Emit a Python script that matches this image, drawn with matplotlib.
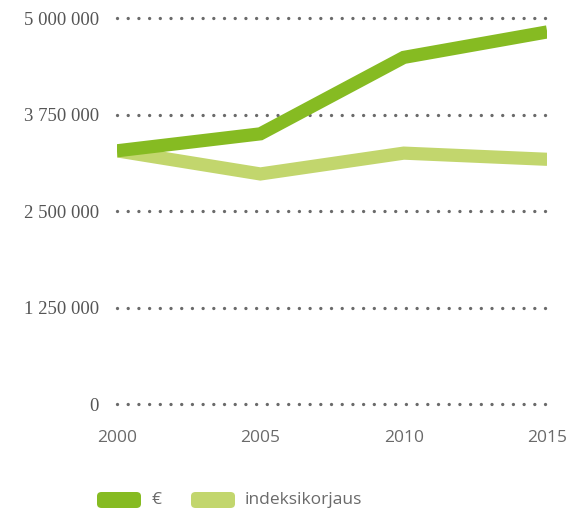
import matplotlib.pyplot as plt
from matplotlib.patches import FancyBboxPatch
from matplotlib.ticker import FixedLocator

years = [2000, 2005, 2010, 2015]
euro = [3280000, 3500000, 4490000, 4820000]
indeksi = [3280000, 2980000, 3250000, 3170000]
yticks = [0, 1250000, 2500000, 3750000, 5000000]
ylabels = ['0', '1 250 000', '2 500 000', '3 750 000', '5 000 000']
series_names = ['€', 'indeksikorjaus']
dark = '#86bb22'
light = '#c2d66d'

fig = plt.figure(figsize=(5.76, 5.15), dpi=100)
ax = fig.add_axes([0.203, 0.2155, 0.747, 0.7495])

ax.plot(years, indeksi, color=light, lw=9.5, solid_capstyle='butt', solid_joinstyle='miter', zorder=3)
ax.plot(years, euro, color=dark, lw=9.5, solid_capstyle='butt', solid_joinstyle='miter', zorder=4)

ax.set_xlim(2000, 2015)
ax.set_ylim(0, 5000000)
ax.yaxis.set_major_locator(FixedLocator(yticks))
ax.set_yticklabels(ylabels, family='Liberation Serif', fontsize=13.5, color='#555555')
ax.set_xticks(years)
ax.set_xticklabels([str(y) for y in years], family='Open Sans', fontsize=12.5, color='#6a6a6a')
ax.tick_params(axis='y', length=0, pad=13)
ax.tick_params(axis='x', length=0, pad=19)
# dotted grid, ~10.7 px between dots
ax.yaxis.grid(True, color='#6a6a6a', linewidth=2.4, linestyle=(0, (0.01, 3.2)),
              dash_capstyle='round', zorder=1)
for gl in ax.get_ygridlines():
    gl.set_clip_on(False)
ax.set_axisbelow(True)
for s in ax.spines.values():
    s.set_visible(False)

# legend
W, H = 576, 515
for name, col, x0 in zip(series_names, [dark, light], [97, 191]):
    box = FancyBboxPatch((x0 / W, (H - 508) / H), 44 / W, 16 / H,
                         boxstyle='round,pad=0,rounding_size=0.008',
                         transform=fig.transFigure, facecolor=col, edgecolor='none')
    fig.add_artist(box)
    fig.text((x0 + 54) / W, (H - 500) / H, name, family='Open Sans', fontsize=12.5,
             color='#6a6a6a', va='center', ha='left')

fig.savefig('out.png', dpi=100)
